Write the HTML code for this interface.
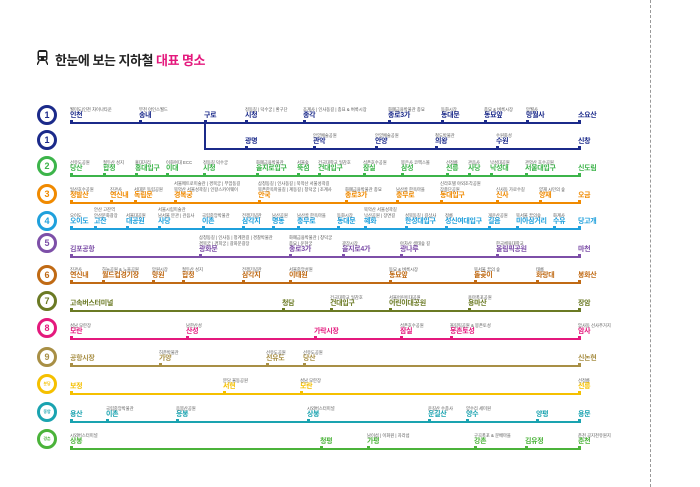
<!DOCTYPE html>
<html><head><meta charset="utf-8"><style>
body{margin:0;background:#fff;width:700px;height:487px;position:relative;overflow:hidden;font-family:"Liberation Sans","Noto Sans CJK KR",sans-serif}
.t{position:absolute;left:55px;top:50px;font-size:13px;font-weight:bold;color:#222;letter-spacing:-0.5px;white-space:nowrap}
.t span{color:#e4197d}
.dash{position:absolute;left:650px;top:0;height:487px;border-left:1px dashed #999}
.c{position:absolute;left:37px;width:14px;height:14px;border:3px solid;border-radius:50%;background:#fff;font-size:9px;font-weight:bold;text-align:center;line-height:14px}
.c.s{font-size:4px}
.r{position:absolute;left:0;height:0;width:700px}
.r .ln{position:absolute;left:70px;width:510px;top:0;height:2px;background:currentColor}
.r i{position:absolute;bottom:0;font-style:normal;white-space:nowrap}
.r i:after{content:"";position:absolute;left:0;bottom:-2px;width:3px;height:4px;background:currentColor}
.r i b{display:block;font-size:7px;line-height:8px;padding-bottom:2px;letter-spacing:-0.3px}
.r i s{display:block;text-decoration:none;font-size:4.3px;line-height:5.5px;color:#555}
</style></head><body>
<div class="dash"></div>
<svg style="position:absolute;left:37px;top:50px" width="11" height="15" viewBox="0 0 11 15"><rect x="0.5" y="0" width="10" height="11" rx="2.5" fill="#222"/><rect x="2" y="2" width="7" height="4" fill="#fff"/><circle cx="3" cy="8.5" r="1" fill="#fff"/><circle cx="8" cy="8.5" r="1" fill="#fff"/><path d="M2 11 L0 15 M9 11 L11 15" stroke="#222" stroke-width="1.5"/></svg>
<div class="t">한눈에 보는 지하철 <span>대표 명소</span></div>

<div class="c" style="top:105px;color:#1b2a8a;border-color:#1b2a8a">1</div>
<div class="c" style="top:130px;color:#1b2a8a;border-color:#1b2a8a">1</div>
<div class="c" style="top:156px;color:#3cb44a;border-color:#3cb44a">2</div>
<div class="c" style="top:184px;color:#f08a00;border-color:#f08a00">3</div>
<div class="c" style="top:211px;color:#1fa0dc;border-color:#1fa0dc">4</div>
<div class="c" style="top:233px;color:#7d4fa8;border-color:#7d4fa8">5</div>
<div class="c" style="top:265px;color:#c06a14;border-color:#c06a14">6</div>
<div class="c" style="top:291px;color:#6b7a24;border-color:#6b7a24">7</div>
<div class="c" style="top:318px;color:#e4197d;border-color:#e4197d">8</div>
<div class="c" style="top:347px;color:#a88f45;border-color:#a88f45">9</div>
<div class="c s" style="top:374px;color:#f5c000;border-color:#f5c000">분당</div>
<div class="c s" style="top:402px;color:#1aa3b0;border-color:#1aa3b0">중앙</div>
<div class="c s" style="top:429px;color:#4bb33a;border-color:#4bb33a">경춘</div>

<div class="r" style="top:122px;color:#1b2a8a"><div class="ln"></div>
<div style="position:absolute;left:204px;top:0;width:2px;height:26px;background:#1b2a8a"></div>
<i style="left:70px"><s>월미도|인천 차이나타운</s><b>인천</b></i>
<i style="left:139px"><s>부천 아인스월드</s><b>송내</b></i>
<i style="left:204px"><b>구로</b></i>
<i style="left:245px"><s>정동길 | 덕수궁 | 환구단</s><b>시청</b></i>
<i style="left:303px"><s>조계사 | 인사동길 | 종묘 &amp; 벼룩시장</s><b>종각</b></i>
<i style="left:388px"><s>화폐금융박물관 종묘</s><b>종로3가</b></i>
<i style="left:441px"><s>동화시장</s><b>동대문</b></i>
<i style="left:484px"><s>종묘 &amp; 벼룩시장</s><b>동묘앞</b></i>
<i style="left:526px"><s>망월사</s><b>망월사</b></i>
<i style="left:578px"><b>소요산</b></i></div>

<div class="r" style="top:148px;color:#1b2a8a"><div class="ln" style="left:204px;width:376px"></div>
<i style="left:245px"><b>광명</b></i>
<i style="left:313px"><s>안양예술공원</s><b>관악</b></i>
<i style="left:375px"><s>안양예술공원</s><b>안양</b></i>
<i style="left:435px"><s>철도박물관</s><b>의왕</b></i>
<i style="left:496px"><s>수원화성</s><b>수원</b></i>
<i style="left:578px"><b>신창</b></i></div>

<div class="r" style="top:175px;color:#3cb44a"><div class="ln"></div>
<i style="left:70px"><s>선유도공원</s><b>당산</b></i>
<i style="left:103px"><s>절두산 성지</s><b>합정</b></i>
<i style="left:135px"><s>홍대거리</s><b>홍대입구</b></i>
<i style="left:166px"><s>이화여대 ECC</s><b>이대</b></i>
<i style="left:203px"><s>정동길 덕수궁</s><b>시청</b></i>
<i style="left:256px"><s>화폐금융박물관</s><b>을지로입구</b></i>
<i style="left:297px"><s>서울숲</s><b>뚝섬</b></i>
<i style="left:318px"><s>건국대학교 일감호</s><b>건대입구</b></i>
<i style="left:363px"><s>석촌호수공원</s><b>잠실</b></i>
<i style="left:401px"><s>봉은사 코엑스몰</s><b>삼성</b></i>
<i style="left:446px"><s>선정릉</s><b>선릉</b></i>
<i style="left:468px"><s>관음사</s><b>사당</b></i>
<i style="left:490px"><s>낙성대공원</s><b>낙성대</b></i>
<i style="left:525px"><s>관악산 호수공원</s><b>서울대입구</b></i>
<i style="left:578px"><b>신도림</b></i></div>

<div class="r" style="top:202px;color:#f08a00"><div class="ln"></div>
<i style="left:70px"><s>일산호수공원</s><b>정발산</b></i>
<i style="left:110px"><s>진관사</s><b>연신내</b></i>
<i style="left:134px"><s>서대문 독립공원</s><b>독립문</b></i>
<i style="left:174px"><s>서울메트로미술관 | 경복궁 | 부암동길</s><s>북악산 서울성곽길 | 인왕스카이웨이</s><b>경복궁</b></i>
<i style="left:258px"><s>삼청동길 | 인사동길 | 북악산 서울성곽길</s><s>북촌한옥마을길 | 계동길 | 창덕궁 | 조계사</s><b>안국</b></i>
<i style="left:345px"><s>화폐금융박물관 종묘</s><b>종로3가</b></i>
<i style="left:396px"><s>남산골 한옥마을</s><b>충무로</b></i>
<i style="left:440px"><s>신라호텔 야외조각공원</s><s>장충단공원</s><b>동대입구</b></i>
<i style="left:496px"><s>신사동 가로수길</s><b>신사</b></i>
<i style="left:539px"><s>양재 시민의 숲</s><b>양재</b></i>
<i style="left:578px"><b>오금</b></i></div>

<div class="r" style="top:228px;color:#1fa0dc"><div class="ln"></div>
<i style="left:70px"><s>오이도</s><b>오이도</b></i>
<i style="left:94px"><s>안산 고잔역</s><s>안산문화광장</s><b>고잔</b></i>
<i style="left:126px"><s>서울대공원</s><b>대공원</b></i>
<i style="left:158px"><s>서울시립미술관</s><s>남서울 분관 | 관음사</s><b>사당</b></i>
<i style="left:202px"><s>국립중앙박물관</s><b>이촌</b></i>
<i style="left:242px"><s>전쟁기념관</s><b>삼각지</b></i>
<i style="left:272px"><s>남산공원</s><b>명동</b></i>
<i style="left:297px"><s>남산골 한옥마을</s><b>충무로</b></i>
<i style="left:337px"><s>동화시장</s><b>동대문</b></i>
<i style="left:364px"><s>북악산 서울성곽길</s><s>낙산공원 | 장면길</s><b>혜화</b></i>
<i style="left:405px"><s>성북동길 | 길상사</s><b>한성대입구</b></i>
<i style="left:445px"><s>정릉</s><b>성신여대입구</b></i>
<i style="left:488px"><s>개운산공원</s><b>길음</b></i>
<i style="left:516px"><s>북서울 꿈의숲</s><b>미아삼거리</b></i>
<i style="left:553px"><s>화계사</s><b>수유</b></i>
<i style="left:578px"><b>당고개</b></i></div>

<div class="r" style="top:256px;color:#7d4fa8"><div class="ln"></div>
<i style="left:70px"><b>김포공항</b></i>
<i style="left:199px"><s>삼청동길 | 인사동 | 청계천길 | 경찰박물관</s><s>경복궁 | 경희궁 | 광화문광장</s><b>광화문</b></i>
<i style="left:289px"><s>화폐금융박물관 | 창덕궁</s><s>종묘 | 운현궁</s><b>종로3가</b></i>
<i style="left:342px"><s>광장시장</s><b>을지로4가</b></i>
<i style="left:400px"><s>아차산 생태숲 길</s><b>광나루</b></i>
<i style="left:496px"><s>한국체육대학교</s><b>올림픽공원</b></i>
<i style="left:578px"><b>마천</b></i></div>

<div class="r" style="top:282px;color:#c06a14"><div class="ln"></div>
<i style="left:70px"><s>진관사</s><b>연신내</b></i>
<i style="left:102px"><s>하늘공원 &amp; 노을공원</s><b>월드컵경기장</b></i>
<i style="left:152px"><s>망원시장</s><b>망원</b></i>
<i style="left:182px"><s>절두산 성지</s><b>합정</b></i>
<i style="left:242px"><s>전쟁기념관</s><b>삼각지</b></i>
<i style="left:289px"><s>서울중앙성원</s><b>이태원</b></i>
<i style="left:389px"><s>동묘 &amp; 벼룩시장</s><b>동묘앞</b></i>
<i style="left:474px"><s>북서울 꿈의 숲</s><b>돌곶이</b></i>
<i style="left:536px"><s>태릉</s><b>화랑대</b></i>
<i style="left:578px"><b>봉화산</b></i></div>

<div class="r" style="top:310px;color:#6b7a24"><div class="ln"></div>
<i style="left:70px"><b>고속버스터미널</b></i>
<i style="left:282px"><b>청담</b></i>
<i style="left:330px"><s>건국대학교 일감호</s><b>건대입구</b></i>
<i style="left:389px"><s>서울어린이대공원</s><b>어린이대공원</b></i>
<i style="left:468px"><s>용마폭포공원</s><b>용마산</b></i>
<i style="left:578px"><b>장암</b></i></div>

<div class="r" style="top:338px;color:#e4197d"><div class="ln"></div>
<i style="left:70px"><s>성남 모란장</s><b>모란</b></i>
<i style="left:186px"><s>남한산성</s><b>산성</b></i>
<i style="left:314px"><b>가락시장</b></i>
<i style="left:400px"><s>석촌호수공원</s><b>잠실</b></i>
<i style="left:450px"><s>올림픽공원 &amp; 몽촌토성</s><b>몽촌토성</b></i>
<i style="left:578px"><s>암사동 선사주거지</s><b>암사</b></i></div>

<div class="r" style="top:365px;color:#a88f45"><div class="ln"></div>
<i style="left:70px"><b>공항시장</b></i>
<i style="left:159px"><s>허준박물관</s><b>가양</b></i>
<i style="left:266px"><s>선유도공원</s><b>선유도</b></i>
<i style="left:303px"><s>선유도공원</s><b>당산</b></i>
<i style="left:578px"><b>신논현</b></i></div>

<div class="r" style="top:393px;color:#f5c000"><div class="ln"></div>
<i style="left:70px"><b>보정</b></i>
<i style="left:223px"><s>분당 율동공원</s><b>서현</b></i>
<i style="left:300px"><s>성남 모란장</s><b>모란</b></i>
<i style="left:578px"><s>선정릉</s><b>선릉</b></i></div>

<div class="r" style="top:421px;color:#1aa3b0"><div class="ln"></div>
<i style="left:70px"><b>용산</b></i>
<i style="left:106px"><s>국립중앙박물관</s><b>이촌</b></i>
<i style="left:176px"><s>응봉산공원</s><b>응봉</b></i>
<i style="left:307px"><s>시외버스터미널</s><b>상봉</b></i>
<i style="left:428px"><s>운길산 수종사</s><b>운길산</b></i>
<i style="left:466px"><s>양수리 세미원</s><b>양수</b></i>
<i style="left:536px"><b>양평</b></i>
<i style="left:578px"><b>용문</b></i></div>

<div class="r" style="top:448px;color:#4bb33a"><div class="ln"></div>
<i style="left:70px"><s>시외버스터미널</s><b>상봉</b></i>
<i style="left:320px"><b>청평</b></i>
<i style="left:367px"><s>남이섬 | 이화원 | 자라섬</s><b>가평</b></i>
<i style="left:474px"><s>구곡폭포 &amp; 문배마을</s><b>강촌</b></i>
<i style="left:525px"><b>김유정</b></i>
<i style="left:578px"><s>춘천 공지천유원지</s><b>춘천</b></i></div>
</body></html>
